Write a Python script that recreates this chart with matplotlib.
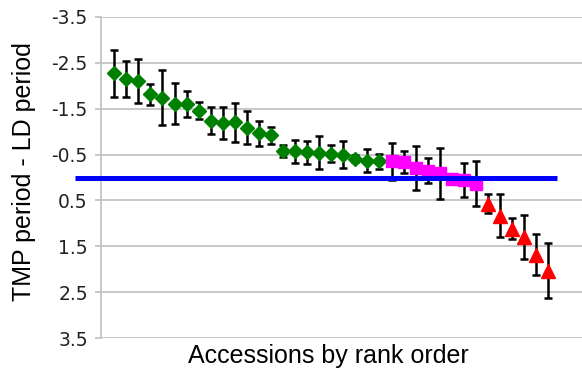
import numpy as np
import matplotlib
matplotlib.use("Agg")
import matplotlib.pyplot as plt

# Period differences (TMP - LD) per accession, sorted by rank
GREEN_VALUES = [-2.27, -2.14, -2.11, -1.81, -1.74, -1.61, -1.61, -1.46, -1.24, -1.18,
                -1.20, -1.09, -0.96, -0.92, -0.58, -0.57, -0.55, -0.54, -0.52, -0.50,
                -0.41, -0.37, -0.35]
GREEN_ERRORS = [0.51, 0.39, 0.48, 0.23, 0.60, 0.44, 0.28, 0.18, 0.30, 0.35,
                0.42, 0.36, 0.27, 0.18, 0.13, 0.25, 0.25, 0.36, 0.19, 0.30,
                0.07, 0.26, 0.16]

MAGENTA_VALUES = [-0.35, -0.34, -0.21, -0.15, -0.09, 0.03, 0.05, 0.14]
MAGENTA_ERRORS = [0.41, 0.24, 0.48, 0.27, 0.55, 0.08, 0.37, 0.49]

RED_VALUES = [0.57, 0.83, 1.12, 1.30, 1.68, 2.03]
RED_ERRORS = [0.21, 0.47, 0.23, 0.48, 0.44, 0.60]

Y_TICKS = [-3.5, -2.5, -1.5, -0.5, 0.5, 1.5, 2.5, 3.5]

REF_LEVEL = 0.0
REF_SPAN = (-2.25, 37.75)

GRID_COLOR = "#c4c4c4"


def plot_group(ax, x, values, errors, marker, color, size):
    """Draw one group of ranked accessions with error bars."""
    ax.errorbar(x, values, yerr=errors, fmt=marker, color=color, ms=size,
                mec=color, ecolor="black", elinewidth=1.8,
                capsize=3.0, capthick=1.8, zorder=3, clip_on=False)


def main():
    fig = plt.figure(figsize=(5.82, 3.71), dpi=100)
    ax = fig.add_axes([0.1735, 0.0889, 0.8265, 0.8653])

    n_green = len(GREEN_VALUES)
    n_mag = len(MAGENTA_VALUES)
    n_red = len(RED_VALUES)
    x_green = np.arange(1, n_green + 1)
    x_mag = np.arange(n_green + 1, n_green + n_mag + 1)
    x_red = np.arange(n_green + n_mag + 1, n_green + n_mag + n_red + 1)

    plot_group(ax, x_green, GREEN_VALUES, GREEN_ERRORS, "D", "#008000", 7.6)
    plot_group(ax, x_mag, MAGENTA_VALUES, MAGENTA_ERRORS, "s", "#ff00ff", 9.0)
    plot_group(ax, x_red, RED_VALUES, RED_ERRORS, "^", "#ff0000", 9.4)

    ax.plot(REF_SPAN, [REF_LEVEL, REF_LEVEL], color="#0000ff", lw=3.6,
            solid_capstyle="butt", zorder=5, clip_on=False)

    ax.set_xlim(-0.1, 39.8)
    ax.set_ylim(3.5, -3.5)
    ax.set_yticks(Y_TICKS, [f"{t:.1f}" for t in Y_TICKS])
    ax.set_xticks([])
    ax.grid(axis="y", color=GRID_COLOR, lw=1.3)
    ax.set_axisbelow(True)
    for side in ("top", "right", "bottom"):
        ax.spines[side].set_visible(False)
    ax.spines["left"].set_color(GRID_COLOR)
    ax.spines["left"].set_linewidth(1.3)
    ax.tick_params(axis="y", length=4.5, width=1.3, color=GRID_COLOR, pad=5,
                   labelsize=13.5, labelcolor="#222222",
                   labelfontfamily="DejaVu Sans")

    ax.set_ylabel("TMP period - LD period", fontsize=18, family="Liberation Sans")
    ax.yaxis.set_label_coords(-0.135, 0.52)
    ax.set_xlabel("Accessions by rank order", fontsize=18, family="Liberation Sans")
    ax.xaxis.set_label_coords(0.472, -0.02)

    fig.savefig("out.png", dpi=100)


if __name__ == "__main__":
    main()
